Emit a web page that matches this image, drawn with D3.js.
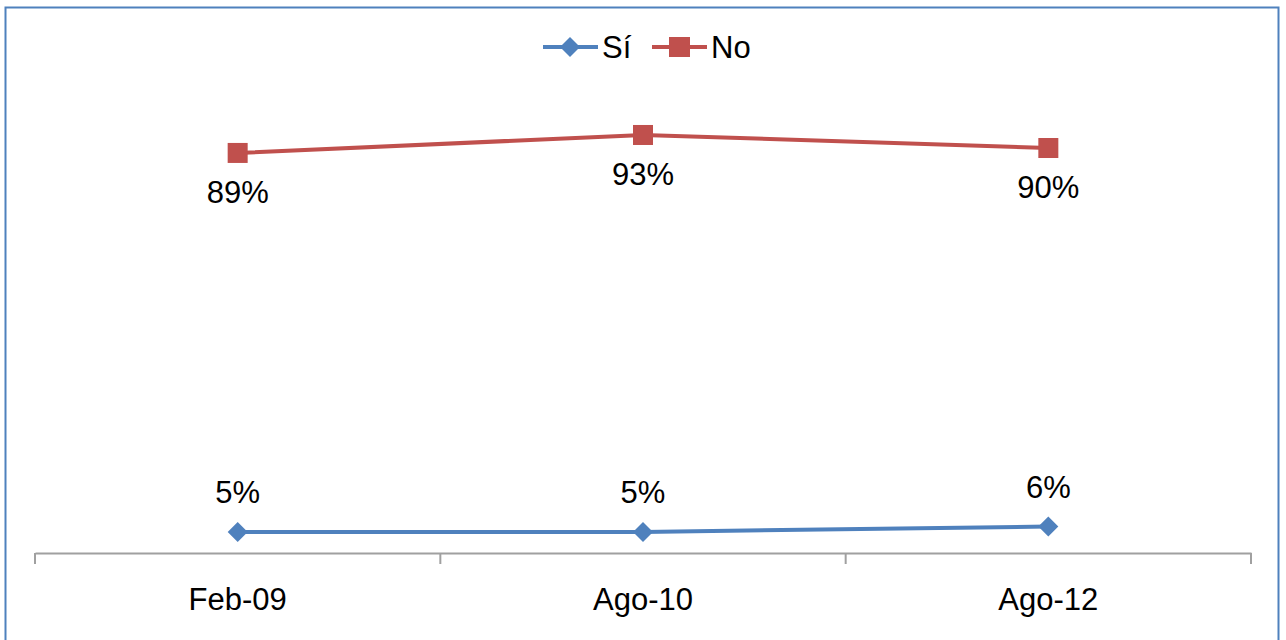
<!DOCTYPE html>
<html>
<head>
<meta charset="utf-8">
<script src="https://cdn.jsdelivr.net/npm/d3@7"></script>
<style>
  body { margin: 0; background: #fff; }
  svg text { font-family: "Liberation Sans", Arial, sans-serif; fill: #000; }
</style>
</head>
<body>
<div id="chart-area"><svg></svg></div>
<script>
const categories = ["Feb-09", "Ago-10", "Ago-12"];
const siValues = [0.047, 0.047, 0.059];
const noValues = [0.891, 0.931, 0.902];
const seriesNames = ["Sí", "No"];

const chartSize = { width: 1286, height: 640 };
const margin = { left: 35, right: 35, top: 104, bottom: 87 };

const width = chartSize.width - margin.left - margin.right;
const height = chartSize.height - margin.top - margin.bottom;

const colors = { "Sí": "#4f81bd", "No": "#c0504d" };
const fontSize = 31;

const svg = d3
  .select("#chart-area svg")
  .attr("width", chartSize.width)
  .attr("height", chartSize.height);

// outer chart border
svg
  .append("rect")
  .attr("x", 5.5)
  .attr("y", 7.5)
  .attr("width", 1273)
  .attr("height", 660)
  .attr("fill", "none")
  .attr("stroke", "#4f81bd")
  .attr("stroke-width", 2);

const g = svg
  .append("g")
  .attr("transform", `translate(${margin.left}, ${margin.top})`);

const x = d3.scaleBand().domain(categories).range([0, width]).padding(0);
const y = d3.scaleLinear().domain([0, 1]).range([height, 0]);

const xAxis = d3.axisBottom(x).tickSize(0).tickPadding(35);
const axisG = g
  .append("g")
  .attr("class", "x-axis")
  .attr("transform", `translate(0, ${height})`)
  .call(xAxis);

axisG.select(".domain").attr("stroke", "#a0a0a0").attr("stroke-width", 2);
axisG.selectAll("text").attr("font-size", fontSize).attr("fill", "#000");

// tick marks between categories
const tickPos = categories.map(c => x(c)).concat([width]);
axisG
  .selectAll(".sep")
  .data(tickPos)
  .join("line")
  .attr("class", "sep")
  .attr("x1", d => d)
  .attr("x2", d => d)
  .attr("y1", 0)
  .attr("y2", 11)
  .attr("stroke", "#a0a0a0")
  .attr("stroke-width", 2);

const cx = c => x(c) + x.bandwidth() / 2;
const fmt = d3.format(".0%");

const series = [
  { name: "Sí", values: siValues, above: true },
  { name: "No", values: noValues, above: false }
];

const line = d3
  .line()
  .x((v, i) => cx(categories[i]))
  .y(v => y(v));

series.forEach(s => {
  const color = colors[s.name];
  g.append("path")
    .attr("d", line(s.values))
    .attr("fill", "none")
    .attr("stroke", color)
    .attr("stroke-width", 4);

  const pts = g
    .selectAll(`.pt-${s.above ? "si" : "no"}`)
    .data(s.values)
    .join("g")
    .attr("transform", (v, i) => `translate(${cx(categories[i])}, ${y(v)})`);

  if (s.name === "Sí") {
    pts.append("path")
      .attr("d", "M0,-10L10,0L0,10L-10,0Z")
      .attr("fill", color);
  } else {
    pts.append("rect")
      .attr("x", -10)
      .attr("y", -10)
      .attr("width", 20)
      .attr("height", 20)
      .attr("fill", color);
  }

  pts.append("text")
    .attr("text-anchor", "middle")
    .attr("font-size", fontSize)
    .attr("y", s.above ? -29 : 50)
    .text(v => fmt(v));
});

// legend
const legend = svg.append("g").attr("transform", "translate(543, 47)");
const legendItems = [
  { name: seriesNames[0], x: 0 },
  { name: seriesNames[1], x: 109 }
];
legendItems.forEach(it => {
  const color = colors[it.name];
  const lg = legend.append("g").attr("transform", `translate(${it.x}, 0)`);
  lg.append("line")
    .attr("x1", 0)
    .attr("x2", 55)
    .attr("stroke", color)
    .attr("stroke-width", 4);
  if (it.name === "Sí") {
    lg.append("path").attr("d", "M27,-10L37,0L27,10L17,0Z").attr("fill", color);
  } else {
    lg.append("rect")
      .attr("x", 17)
      .attr("y", -10)
      .attr("width", 21)
      .attr("height", 20)
      .attr("fill", color);
  }
  lg.append("text")
    .attr("x", 59)
    .attr("y", 11)
    .attr("font-size", fontSize)
    .text(it.name);
});
</script>
</body>
</html>
